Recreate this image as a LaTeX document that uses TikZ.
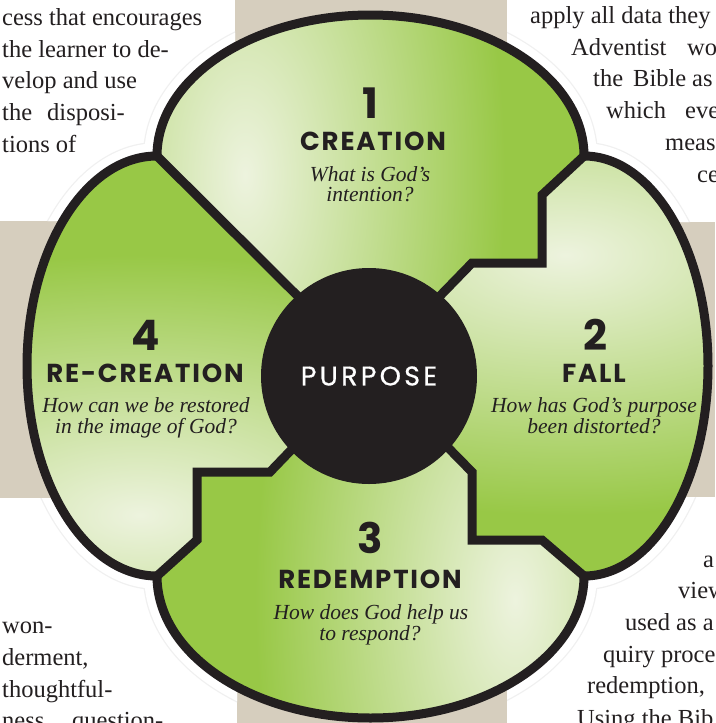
\documentclass[tikz,border=0pt]{standalone}
\usepackage{fontspec}
\setmainfont{Liberation Serif}
\newfontfamily\popfont{Poppins}
\newfontfamily\popwide{Poppins}[LetterSpace=7]
\newfontfamily\popmid{Poppins}[LetterSpace=12, FakeBold=0.6]
\definecolor{beige}{RGB}{214,206,190}
\definecolor{lgreen}{RGB}{152,200,70}
\definecolor{llight}{RGB}{237,243,222}
\definecolor{ink}{RGB}{35,31,32}
\begin{document}
\begin{tikzpicture}[x=1pt,y=-1pt,
  bodytxt/.style={font=\fontsize{24.5}{30}\selectfont, text=ink, anchor=base west, inner sep=0pt},
  numtxt/.style={font=\popfont\bfseries\fontsize{42}{42}\selectfont, text=ink, anchor=base, inner sep=0pt},
  ttltxt/.style={font=\popwide\bfseries\fontsize{26}{26}\selectfont, text=ink, anchor=base, inner sep=0pt},
  qsttxt/.style={font=\itshape\fontsize{21.5}{21.5}\selectfont, text=ink, anchor=base, inner sep=0pt},
  blackline/.style={line width=9pt, draw=ink, line join=miter},
]
\useasboundingbox (0,0) rectangle (715,723);
\clip (0,0) rectangle (715,723);
% background
\fill[beige] (0,0) rectangle (715,723);
\fill[white] (0,0) rectangle (235,221);
\fill[white] (507,0) rectangle (715,222);
\fill[white] (0,498) rectangle (237,723);
\fill[white] (507,497) rectangle (715,723);
% key points
\coordinate (TL) at (157,156);
\coordinate (TR) at (584,156);
\coordinate (BR) at (584,576);
\coordinate (BL) at (157,576);
\coordinate (D) at (370,368);
\coordinate (tr1) at (542,195);
\coordinate (tr2) at (542,263);
\coordinate (tr3) at (472,263);
\coordinate (br1) at (542,540);
\coordinate (br2) at (472,540);
\coordinate (br3) at (472,472);
\coordinate (bl1) at (197,540);
\coordinate (bl2) at (197,472);
\coordinate (bl3) at (270,472);
% faint halo line in white text areas
\begin{scope}
\clip (0,0) rectangle (235,221) (507,0) rectangle (715,222) (0,498) rectangle (237,723) (507,497) rectangle (715,723);
\draw[line width=28pt, gray!12] (TL) arc[start angle=180,end angle=360,x radius=213.5,y radius=141]
  arc[start angle=-90,end angle=90,x radius=124,y radius=210]
  arc[start angle=0,end angle=180,x radius=213.5,y radius=142]
  arc[start angle=90,end angle=270,x radius=130,y radius=210] -- cycle;
\draw[line width=25.5pt, white] (TL) arc[start angle=180,end angle=360,x radius=213.5,y radius=141]
  arc[start angle=-90,end angle=90,x radius=124,y radius=210]
  arc[start angle=0,end angle=180,x radius=213.5,y radius=142]
  arc[start angle=90,end angle=270,x radius=130,y radius=210] -- cycle;
\end{scope}
% top lobe
\begin{scope}
\clip (TL) arc[start angle=180,end angle=360,x radius=213.5,y radius=141] -- (tr1) -- (tr2) -- (tr3) -- (D) -- cycle;
\fill[lgreen] (0,0) rectangle (715,723);
\shade[inner color=llight, outer color=lgreen] (245,175) ellipse[x radius=260, y radius=520];
\end{scope}
% right lobe
\begin{scope}
\clip (TR) arc[start angle=-90,end angle=90,x radius=124,y radius=210] -- (br1) -- (br2) -- (br3) -- (D) -- (tr3) -- (tr2) -- (tr1) -- cycle;
\fill[lgreen] (0,0) rectangle (715,723);
\shade[inner color=llight, outer color=lgreen] (565,255) ellipse[x radius=520, y radius=260];
\end{scope}
% bottom lobe
\begin{scope}
\clip (BR) arc[start angle=0,end angle=180,x radius=213.5,y radius=142] -- (bl1) -- (bl2) -- (bl3) -- (D) -- (br3) -- (br2) -- (br1) -- cycle;
\fill[lgreen] (0,0) rectangle (715,723);
\shade[inner color=llight, outer color=lgreen] (515,600) ellipse[x radius=260, y radius=520];
\end{scope}
% left lobe
\begin{scope}
\clip (BL) arc[start angle=90,end angle=270,x radius=130,y radius=210] -- (D) -- (bl3) -- (bl2) -- (bl1) -- cycle;
\fill[lgreen] (0,0) rectangle (715,723);
\shade[inner color=llight, outer color=lgreen] (140,515) ellipse[x radius=520, y radius=260];
\end{scope}
% outline
\draw[blackline, line join=round] (TL) arc[start angle=180,end angle=360,x radius=213.5,y radius=141]
  arc[start angle=-90,end angle=90,x radius=124,y radius=210]
  arc[start angle=0,end angle=180,x radius=213.5,y radius=142]
  arc[start angle=90,end angle=270,x radius=130,y radius=210] -- cycle;
% dividers
\draw[blackline] (TL) -- (D);
\draw[blackline] (TR) -- (tr1) -- (tr2) -- (tr3) -- (D);
\draw[blackline] (BR) -- (br1) -- (br2) -- (br3) -- (D);
\draw[blackline] (BL) -- (bl1) -- (bl2) -- (bl3) -- (D);
% centre
\node[circle, fill=ink, minimum size=216pt, inner sep=0pt, text=white,
  font=\popmid\fontsize{27}{27}\selectfont] (purpose) at (369,376) {PURPOSE};
% lobe labels
\node[numtxt] (n1) at (370,118) {1};
\node[ttltxt] (t1) at (373,150) {CREATION};
\node[qsttxt] (q1a) at (370,181) {What is God's};
\node[qsttxt] (q1b) at (370,201) {intention?};
\node[numtxt] (n2) at (595,350) {2};
\node[ttltxt] (t2) at (594,382) {FALL};
\node[qsttxt] (q2a) at (594,412) {How has God's purpose};
\node[qsttxt] (q2b) at (594,433) {been distorted?};
\node[numtxt] (n3) at (370,553) {3};
\node[ttltxt] (t3) at (370,588) {REDEMPTION};
\node[qsttxt] (q3a) at (371,619) {How does God help us};
\node[qsttxt] (q3b) at (370,640) {to respond?};
\node[numtxt] (n4) at (146,350) {4};
\node[ttltxt] (t4) at (145,382) {RE-CREATION};
\node[qsttxt] (q4a) at (146,412) {How can we be restored};
\node[qsttxt] (q4b) at (146,433) {in the image of God?};
% body text, top left
\node[bodytxt] (a1) at (2,25) {cess that encourages};
\node[bodytxt] (a2) at (2,57) {the learner to de-};
\node[bodytxt] (a3) at (2,88) {velop and use};
\node[bodytxt] (a4) at (2,120) {the};
\node[bodytxt] (a4b) at (47,120) {disposi-};
\node[bodytxt] (a5) at (2,152) {tions of};
% top right
\node[bodytxt] (b1) at (530,23) {apply all data they};
\node[bodytxt] (b2) at (571,55) {Adventist};
\node[bodytxt] (b2b) at (687,55) {wo};
\node[bodytxt] (b3) at (593,86) {the};
\node[bodytxt] (b3b) at (633,86) {Bible};
\node[bodytxt] (b3c) at (692,86) {as};
\node[bodytxt] (b4) at (606,118) {which};
\node[bodytxt] (b4b) at (685,118) {eve};
\node[bodytxt] (b5) at (665,150) {meas};
\node[bodytxt] (b6) at (697,182) {ce};
% bottom left
\node[bodytxt] (c1) at (2,633) {won-};
\node[bodytxt] (c2) at (2,665) {derment,};
\node[bodytxt] (c3) at (2,697) {thoughtful-};
\node[bodytxt] (c4) at (2,728) {ness};
\node[bodytxt] (c4b) at (72,728) {question-};
% bottom right
\node[bodytxt] (d1) at (703,567) {a};
\node[bodytxt] (d2) at (678,598) {view};
\node[bodytxt] (d3) at (625,630) {used as a};
\node[bodytxt] (d4) at (603,662) {quiry proce};
\node[bodytxt] (d5) at (587,693) {redemption,};
\node[bodytxt] (d6) at (577,726) {Using the Bib};
\end{tikzpicture}
\end{document}
